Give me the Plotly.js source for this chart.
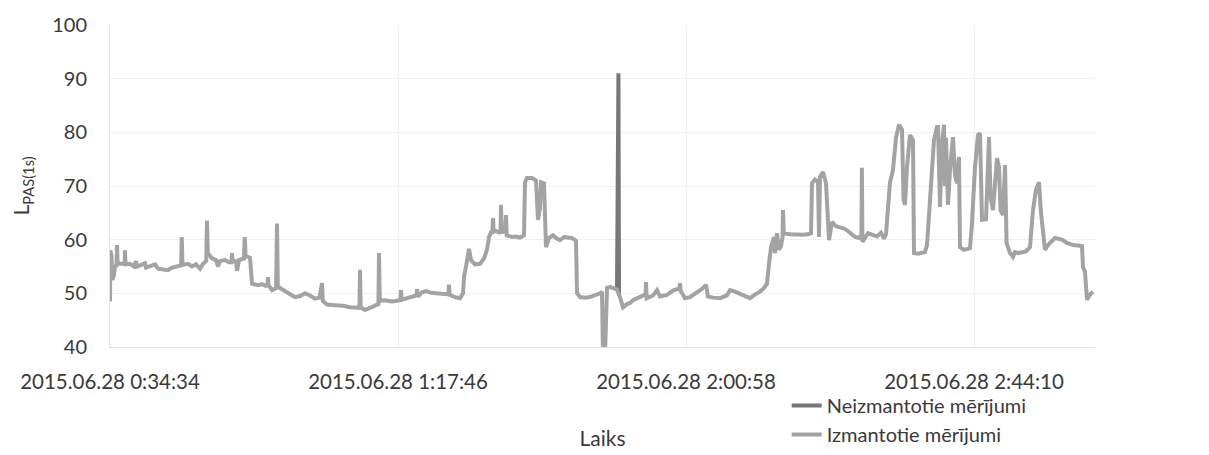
<!DOCTYPE html>
<html>
<head>
<meta charset="utf-8">
<script src="https://cdn.plot.ly/plotly-3.0.1.min.js"></script>
<style>html,body{margin:0;padding:0;background:#fff;}#chart{width:1209px;height:455px;}</style>
</head>
<body>
<div id="chart"></div>
<script>
// seconds elapsed since 2015.06.28 0:34:34
const usedTimes = [
0,4,13,22,36,45,59,63,68,90,126,131,135,140,180,216,234,243,270,315,324,360,405,432,477,522,558,594,640,646,652,702,738,774,810,837,866,873,880,918,954,972,990,1035,1071,1094,1098,1103,1134,1143,1161,1205,1213,1220,1260,1278,1332,1368,1404,1418,1422,1428,1458,1495,1503,1510,
1530,1575,1620,1665,1710,1755,1800,1845,1885,1908,1915,1953,2025,2097,2160,2223,2245,2250,2256,2295,2340,2385,2416,2421,2428,2475,2538,2614,2619,2625,2655,2700,2736,2760,2763,2770,2808,2844,2889,2934,2970,3045,3051,3057,3105,3150,3177,3186,3204,3222,
3231,3249,3285,3330,3366,3393,3411,3429,3442,3447,3453,3474,3501,3515,3519,3525,3558,3564,3570,3618,3654,3690,3726,3735,3753,3798,3834,3852,3870,3879,3906,3924,3951,3987,4014,4050,4086,4122,4158,4194,4203,4230,4275,4320,4365,4410,4428,4437,4455,4473,4500,4536,4563,4590,4617,4653,4680,
4707,4743,4779,4815,4820,4824,4830,4887,4923,4950,5013,5067,5112,5124,5130,5137,5175,5220,5283,5328,5364,5382,5427,5490,5553,5580,5625,5670,5724,5760,5805,5850,5886,5913,5931,5949,5976,5985,6003,
6021,6039,6053,6057,6064,6120,6183,6237,6282,6309,6318,6345,6372,6381,6390,6417,6444,6471,6498,6534,6570,6615,6660,6705,6750,6763,6767,6772,6822,6858,6903,6939,6966,6984,6993,7020,7047,7074,7101,7128,7142,7155,7173,7200,7227,7236,7272,7335,7353,7371,7398,7416,7443,
7452,7470,7488,7506,7515,7524,7533,7542,7560,7587,7605,7623,7641,7650,7686,7740,7758,7785,7812,7830,7848,7884,7911,7925,7947,7983,8001,8015,8037,8055,8069,8100,8127,8145,8172,8244,8280,8307,8334,8361,8379,8415,8442,8505,8568,8613,8667,8748,8757,8775,8793,8820,8847
];
const usedValues = [
48.5,58,57,52.5,53.5,55,55.2,59,55.8,55.5,55.6,55.5,58,55.4,55.5,55.0,56.0,55.0,55.2,55.6,54.8,55.0,55.4,54.6,54.5,54.3,54.8,54.9,55.2,60.5,55.3,55.5,55.0,55.4,54.6,55.5,56.0,63.5,57.5,56.5,56.2,55.0,56.0,56.2,55.8,55.8,57.5,56.0,56.0,54.2,56.2,56.5,60.5,57.0,56.6,51.8,51.5,51.7,51.4,51.5,53.0,51.5,50.6,51.0,63.0,51.3,
51.0,50.5,50.0,49.3,49.5,50.0,49.6,49.0,49.2,51.9,48.6,47.9,47.8,47.7,47.4,47.3,47.3,54.4,47.4,46.9,47.3,47.8,48.0,57.5,48.6,48.7,48.5,48.7,50.6,48.8,49.0,49.3,49.6,49.6,50.8,49.4,50.2,50.4,50.1,50.0,49.9,49.8,51.6,49.7,49.3,49.1,50.0,53.0,55.0,58.0,
58.3,56.2,55.4,55.5,56.5,58.1,60.5,61.4,61.4,64.0,61.5,61.6,61.4,61.6,66.5,61.4,61.5,64.6,60.8,60.5,60.6,60.4,60.8,70.7,71.5,71.5,71.0,63.7,66.0,70.7,70.5,58.6,60.3,60.8,60.3,59.9,60.5,60.4,60.3,59.8,50.1,49.3,49.2,49.3,49.6,50.0,50.3,38.5,38.5,51.0,51.2,51.0,50.7,49.3,47.4,48.0,48.2,
48.7,49.1,49.3,49.8,49.8,52.1,49.1,49.6,50.6,49.4,49.7,50.5,50.9,50.9,51.9,50.4,49.1,49.3,50.2,50.8,51.6,49.4,49.2,49.1,49.6,50.6,50.3,49.9,49.3,49.1,49.8,50.3,51.0,51.8,55.5,58.6,60.5,57.5,61.2,
58.1,58.8,60.5,65.5,61.2,61.0,60.9,60.9,61.0,61.2,70.5,71.2,70.8,60.5,71.7,72.6,70.5,59.9,63.3,62.5,62.3,62.0,61.3,60.5,60.3,61.0,73.4,59.6,61.2,61.0,60.6,61.3,60.2,61.0,63.7,70.7,73.0,79.0,81.4,80.5,67.4,66.5,73.5,79.5,78.5,57.5,57.4,57.7,59.0,65.0,74.0,78.5,81.0,
81.0,66.1,78.0,81.4,70.0,79.0,67.0,66.5,73.0,79.1,72.0,70.5,75.4,58.6,58.1,58.4,63.1,73.5,79.5,79.8,63.7,63.8,79.1,68.0,65.5,75.2,73.5,65.5,64.6,73.9,59.4,57.5,56.8,57.7,57.5,57.8,58.6,65.5,69.3,70.7,65.0,58.1,59.0,60.3,60.0,59.4,59.0,58.8,54.9,54.0,48.8,49.8,50.3
];
const unusedTimes = [4563, 4567, 4576, 4581];
const unusedValues = [50.7, 91, 91, 49.5];

const tickVals = [0, 2592, 5184, 7776];
const tickTexts = ["2015.06.28 0:34:34", "2015.06.28 1:17:46", "2015.06.28 2:00:58", "2015.06.28 2:44:10"];
const seriesNames = ["Neizmantotie mērījumi", "Izmantotie mērījumi"];

const font = "Lato, 'Open Sans', sans-serif";
const traces = [
  {x: unusedTimes, y: unusedValues, type: "scatter", mode: "lines", name: seriesNames[0],
   line: {color: "#777777", width: 4}},
  {x: usedTimes, y: usedValues, type: "scatter", mode: "lines", name: seriesNames[1],
   line: {color: "#a3a3a3", width: 4}}
];
const layout = {
  width: 1209, height: 455,
  margin: {l: 110, r: 114, t: 25, b: 108, autoexpand: false},
  paper_bgcolor: "#fff", plot_bgcolor: "#fff",
  font: {family: font, size: 20, color: "#3a3a3a"},
  showlegend: true,
  legend: {x: 0.687, y: -0.121, xanchor: "left", yanchor: "top", font: {size: 20, color: "#3a3a3a"},
           tracegroupgap: 0, bgcolor: "rgba(0,0,0,0)"},
  xaxis: {
    range: [0, 8865], tickmode: "array", tickvals: tickVals, ticktext: tickTexts,
    showgrid: true, gridcolor: "#f1f1f1", zeroline: false, automargin: false,
    showline: true, linecolor: "#e3e3e3", linewidth: 1, ticks: "",
    tickfont: {size: 20.5}, ticklabelstandoff: 16,
    title: {text: "Laiks", font: {size: 21}, standoff: 39}
  },
  yaxis: {
    range: [40, 100], dtick: 10, tick0: 40, automargin: false,
    showgrid: true, gridcolor: "#f1f1f1", zeroline: false,
    showline: true, linecolor: "#e3e3e3", linewidth: 1, ticks: "",
    tickfont: {size: 20}, ticklabelstandoff: 18,
    title: {text: "L<sub>PAS(1s)</sub>", font: {size: 21}, standoff: 16}
  }
};
Plotly.newPlot("chart", traces, layout, {displayModeBar: false, staticPlot: true});
</script>
</body>
</html>
